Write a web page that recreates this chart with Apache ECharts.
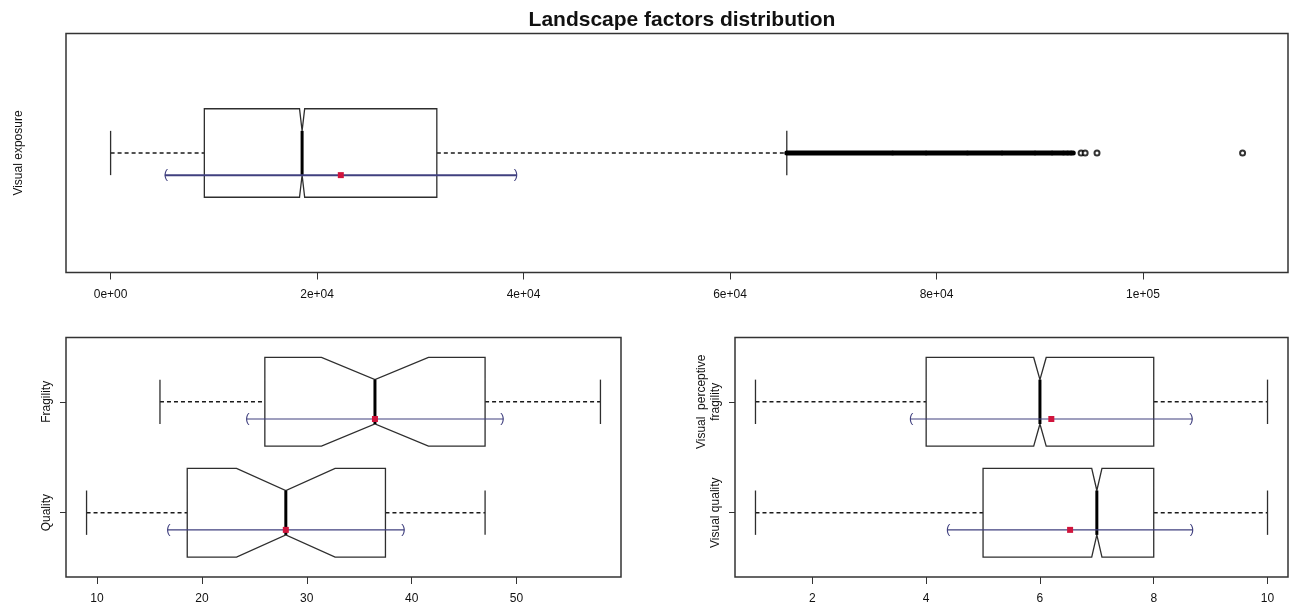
<!DOCTYPE html>
<html>
<head>
<meta charset="utf-8">
<script src="https://cdn.jsdelivr.net/npm/echarts@6/dist/echarts.min.js"></script>
<style>html,body{margin:0;padding:0;background:#fff}#c{width:1292px;height:609px}</style>
</head>
<body>
<div id="c"></div>
<script>
// ---------- data ----------
const chartTitle = 'Landscape factors distribution';

// top panel: Visual exposure
const exposureName = 'Visual exposure';
const exposureTicks = [0, 20000, 40000, 60000, 80000, 100000];
const exposureTickLabels = ['0e+00', '2e+04', '4e+04', '6e+04', '8e+04', '1e+05'];
const exposureRange = [-4320, 114050];
// [min whisker, Q1, median, Q3, max whisker]
const exposureStats = [0, 9080, 18550, 31600, 65500];
const exposureNotch = 250;
const exposureMean = 22300;
const exposureSd = 17050;
// dense outlier runs (overlapping circles) and isolated outliers
const exposureOutlierRuns = [[65500, 75700], [75800, 78950], [79050, 82950], [83050, 86300], [86400, 89500], [89600, 91150], [91250, 92250], [92350, 92650], [92750, 93000], [93100, 93250]];
const exposureOutliers = [94010, 94400, 95550, 109650];

// bottom-left panel
const leftNames = ['Quality', 'Fragility'];
const leftTicks = [10, 20, 30, 40, 50];
const leftTickLabels = ['10', '20', '30', '40', '50'];
const leftRange = [7.04, 59.96];
const leftStats = [[9, 18.6, 28, 37.5, 47], [16, 26, 36.5, 47, 58]];
const leftNotch = [4.7, 5.1];
const leftMean = [28, 36.5];
const leftSd = [11.3, 12.25];

// bottom-right panel
const rightNames = ['Visual quality', 'Visual  perceptive\nfragility'];
const rightTicks = [2, 4, 6, 8, 10];
const rightTickLabels = ['2', '4', '6', '8', '10'];
const rightRange = [0.64, 10.36];
const rightStats = [[1, 5, 7, 8, 10], [1, 4, 6, 8, 10]];
const rightNotch = [0.09, 0.11];
const rightMean = [6.53, 6.2];
const rightSd = [2.16, 2.48];

// ---------- style ----------
const FONT = "'Liberation Sans', Arial, sans-serif";
const BOX = '#2e2e2e';
const BLUE = '#40407f';
const RED = '#d0143c';
const HW = 0.4; // half box width in y units
const yRange = [0.42, 2.58];

const grids = [
  { left: 66, top: 33.5, width: 1222, height: 239 },
  { left: 66, top: 337.5, width: 555, height: 239.5 },
  { left: 735, top: 337.5, width: 553, height: 239.5 }
];

function xAxisFor(gi, range, ticks, labels) {
  return {
    gridIndex: gi, type: 'value', min: range[0], max: range[1],
    axisLine: { show: false }, splitLine: { show: false },
    axisTick: { show: true, customValues: ticks, length: 7, lineStyle: { color: '#333', width: 1 } },
    axisLabel: {
      show: true, customValues: ticks, margin: 16, color: '#111', fontFamily: FONT, fontSize: 12,
      formatter: v => { const i = ticks.indexOf(v); return i >= 0 ? labels[i] : ''; }
    }
  };
}
function yAxisFor(gi, names, name) {
  const ax = {
    gridIndex: gi, type: 'value', min: yRange[0], max: yRange[1],
    axisLine: { show: false }, splitLine: { show: false },
    axisTick: { show: !!names, customValues: [1, 2], length: 6, lineStyle: { color: '#333', width: 1 } },
    axisLabel: {
      show: !!names, customValues: [1, 2], rotate: 90, margin: 12, color: '#111',
      fontFamily: FONT, fontSize: 12, lineHeight: 14,
      formatter: v => names ? (names[Math.round(v) - 1] || '') : ''
    }
  };
  if (name) {
    ax.name = name; ax.nameLocation = 'middle'; ax.nameRotate = 90; ax.nameGap = 41;
    ax.nameTextStyle = { color: '#111', fontFamily: FONT, fontSize: 12 };
  }
  return ax;
}

function boxSeries(gi, items) {
  // items: [y, min, q1, med, q3, max, notch]
  return {
    type: 'custom', xAxisIndex: gi, yAxisIndex: gi, clip: false, z: 2,
    data: items,
    renderItem: (params, api) => {
      const y = api.value(0), mn = api.value(1), q1 = api.value(2), md = api.value(3),
        q3 = api.value(4), mx = api.value(5), n = api.value(6);
      const p = (x, yy) => api.coord([x, yy]);
      const poly = [p(q1, y - HW), p(md - n, y - HW), p(md, y - HW / 2), p(md + n, y - HW), p(q3, y - HW),
        p(q3, y + HW), p(md + n, y + HW), p(md, y + HW / 2), p(md - n, y + HW), p(q1, y + HW)];
      const line = (a, b, style) => ({
        type: 'line', shape: { x1: a[0], y1: a[1], x2: b[0], y2: b[1] }, style: style
      });
      const dash = { stroke: '#1a1a1a', lineWidth: 1.4, lineDash: [4, 3] };
      const solid = { stroke: BOX, lineWidth: 1.3 };
      return {
        type: 'group', children: [
          line(p(mn, y), p(q1, y), dash),
          line(p(q3, y), p(mx, y), dash),
          line(p(mn, y - HW / 2), p(mn, y + HW / 2), solid),
          line(p(mx, y - HW / 2), p(mx, y + HW / 2), solid),
          { type: 'polygon', shape: { points: poly }, style: { fill: '#fff', stroke: BOX, lineWidth: 1.3 } },
          line(p(md, y - HW / 2), p(md, y + HW / 2), { stroke: '#000', lineWidth: 3 })
        ]
      };
    }
  };
}

function meanSeries(gi, items, lw) {
  // items: [y, mean, sd, offset]
  return {
    type: 'custom', xAxisIndex: gi, yAxisIndex: gi, clip: false, z: 3,
    data: items,
    renderItem: (params, api) => {
      const y = api.value(0) - api.value(3), m = api.value(1), s = api.value(2);
      const a = api.coord([m - s, y]), b = api.coord([m + s, y]), c = api.coord([m, y]);
      const txt = (pt, t) => ({
        type: 'text', x: pt[0], y: pt[1],
        style: { text: t, fill: BLUE, font: '13px ' + FONT, align: 'center', verticalAlign: 'middle' }
      });
      return {
        type: 'group', children: [
          { type: 'line', shape: { x1: a[0], y1: a[1], x2: b[0], y2: b[1] }, style: { stroke: BLUE, lineWidth: lw } },
          txt([a[0] + 1, a[1] - 0.5], '('),
          txt([b[0] - 1, b[1] - 0.5], ')'),
          { type: 'rect', shape: { x: c[0] - 3, y: c[1] - 3, width: 6, height: 6 }, style: { fill: RED } }
        ]
      };
    }
  };
}

const topY = 1.5;
const series = [
  boxSeries(0, [[topY].concat(exposureStats, [exposureNotch])]),
  {
    type: 'custom', xAxisIndex: 0, yAxisIndex: 0, clip: false, z: 2,
    data: exposureOutlierRuns.map(r => [r[0], r[1], topY]),
    renderItem: (params, api) => {
      const a = api.coord([api.value(0), api.value(2)]), b = api.coord([api.value(1), api.value(2)]);
      return { type: 'line', shape: { x1: a[0], y1: a[1], x2: b[0], y2: b[1] },
        style: { stroke: '#000', lineWidth: 5, lineCap: 'round' } };
    }
  },
  {
    type: 'scatter', xAxisIndex: 0, yAxisIndex: 0, z: 2,
    symbol: 'emptyCircle', symbolSize: 5,
    itemStyle: { color: '#000', borderColor: '#000', borderWidth: 1 },
    data: exposureOutliers.map(v => [v, topY])
  },
  meanSeries(0, [[topY, exposureMean, exposureSd, 0.2]], 2),
  boxSeries(1, leftStats.map((s, i) => [i + 1].concat(s, [leftNotch[i]]))),
  meanSeries(1, leftMean.map((m, i) => [i + 1, m, leftSd[i], 0.155]), 1.2),
  boxSeries(2, rightStats.map((s, i) => [i + 1].concat(s, [rightNotch[i]]))),
  meanSeries(2, rightMean.map((m, i) => [i + 1, m, rightSd[i], 0.155]), 1.2)
];

const chart = echarts.init(document.getElementById('c'), null, { renderer: 'canvas' });
chart.setOption({
  animation: false,
  backgroundColor: '#fff',
  title: {
    text: chartTitle, left: 677, top: 5, textAlign: 'center',
    textStyle: { fontFamily: FONT, fontSize: 21, fontWeight: 'bold', color: '#111' }
  },
  grid: grids.map(g => Object.assign({ show: true, borderColor: '#333', borderWidth: 1.5, backgroundColor: 'transparent' }, g)),
  xAxis: [
    xAxisFor(0, exposureRange, exposureTicks, exposureTickLabels),
    xAxisFor(1, leftRange, leftTicks, leftTickLabels),
    xAxisFor(2, rightRange, rightTicks, rightTickLabels)
  ],
  yAxis: [
    yAxisFor(0, null, exposureName),
    yAxisFor(1, leftNames),
    yAxisFor(2, rightNames)
  ],
  series: series
});
</script>
</body>
</html>
